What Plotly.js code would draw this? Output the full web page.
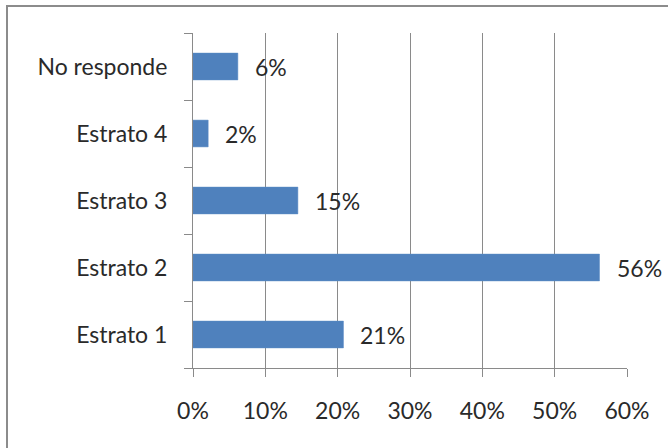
<!DOCTYPE html>
<html>
<head>
<meta charset="utf-8">
<script src="https://cdn.plot.ly/plotly-3.0.1.min.js"></script>
<style>
html,body{margin:0;padding:0;background:#fff;}
#wrap{position:relative;width:668px;height:448px;overflow:hidden;}
#frame{position:absolute;left:6px;top:5px;width:680px;height:460px;border-left:2px solid #8c8c8c;border-top:2px solid #8c8c8c;pointer-events:none;}
#chart{position:absolute;left:0;top:0;width:668px;height:448px;}
</style>
</head>
<body>
<div id="wrap">
<div id="chart"></div>
<div id="frame"></div>
</div>
<script>
const categories = ['Estrato 1', 'Estrato 2', 'Estrato 3', 'Estrato 4', 'No responde'];
const values = [20.8, 56.2, 14.5, 2.1, 6.2];
const labels = ['21%', '56%', '15%', '2%', '6%'];
const xTickVals = [0, 10, 20, 30, 40, 50, 60];
const xTickText = ['0%', '10%', '20%', '30%', '40%', '50%', '60%'];

const FONT = 'Lato, "Open Sans", sans-serif';
const TXT = '#2a2a2a';

const trace = {
  type: 'bar',
  orientation: 'h',
  x: values,
  y: categories,
  width: 0.4,
  marker: {color: '#4F81BD', line: {color: '#5a8ac4', width: 0.5}},
  hoverinfo: 'skip'
};

const annotations = categories.map((c, i) => ({
  x: values[i], y: c, xref: 'x', yref: 'y',
  text: labels[i], showarrow: false,
  xanchor: 'left', yanchor: 'middle', xshift: 15,
  font: {family: FONT, size: 23, color: TXT}
}));

const layout = {
  width: 668, height: 448,
  margin: {l: 193, r: 41, t: 33, b: 80, pad: 0},
  paper_bgcolor: '#ffffff',
  plot_bgcolor: '#ffffff',
  showlegend: false,
  font: {family: FONT, size: 23, color: TXT},
  xaxis: {
    range: [0, 60],
    tickvals: xTickVals,
    ticktext: xTickText,
    showgrid: true, gridcolor: '#8a8a8a', gridwidth: 1,
    zeroline: false,
    showline: true, linecolor: '#8a8a8a', linewidth: 1,
    ticks: 'outside', ticklen: 8, tickcolor: '#8a8a8a', tickwidth: 1,
    ticklabelstandoff: 14,
    tickfont: {family: FONT, size: 23, color: TXT},
    fixedrange: true
  },
  yaxis: {
    type: 'category',
    showgrid: false,
    zeroline: false,
    showline: true, linecolor: '#8a8a8a', linewidth: 1,
    ticks: 'outside', ticklen: 8, tickcolor: '#8a8a8a', tickwidth: 1,
    tickson: 'boundaries',
    ticklabelstandoff: 20,
    tickfont: {family: FONT, size: 23, color: TXT},
    fixedrange: true
  },
  annotations: annotations
};

Plotly.newPlot('chart', [trace], layout, {displayModeBar: false, staticPlot: true});
</script>
</body>
</html>
